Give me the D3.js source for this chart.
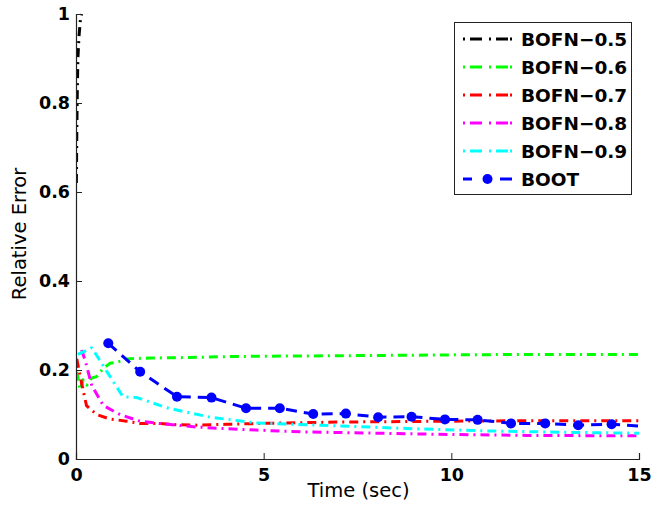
<!DOCTYPE html>
<html>
<head>
<meta charset="utf-8">
<script src="https://cdn.jsdelivr.net/npm/d3@7"></script>
<style>
  html, body { margin: 0; padding: 0; background: #fff; }
  svg { display: block; }
</style>
</head>
<body>
<svg id="chart" width="655" height="514"></svg>
<script>
// Relative error over time for the BOFN variants and BOOT
const seriesNames = ["BOFN\u22120.5", "BOFN\u22120.6", "BOFN\u22120.7", "BOFN\u22120.8", "BOFN\u22120.9", "BOOT"];
const seriesColors = ["#000000", "#00ff00", "#ff0000", "#ff00ff", "#00ffff", "#0000ff"];

const bofn05Time  = [0.01, 0.02, 0.03, 0.05, 0.08, 0.12, 0.15];
const bofn05Error = [0.62, 0.72, 0.80, 0.90, 0.95, 0.99, 1.00];

const bofn06Time  = [0.02, 0.11, 0.19, 0.29, 0.42, 0.55, 0.73, 0.91, 1.12, 1.35, 2, 3, 4, 5, 7, 10, 12, 15];
const bofn06Error = [0.196, 0.155, 0.178, 0.166, 0.182, 0.185, 0.204, 0.215, 0.218, 0.225, 0.227, 0.228, 0.23, 0.231, 0.232, 0.234, 0.235, 0.235];

const bofn07Time  = [0.02, 0.15, 0.28, 0.55, 0.9, 1.35, 1.7, 2.2, 2.7, 3.3, 4, 5, 7, 10, 12, 15];
const bofn07Error = [0.225, 0.17, 0.12, 0.10, 0.09, 0.085, 0.08, 0.08, 0.077, 0.076, 0.078, 0.08, 0.083, 0.085, 0.086, 0.086];

const bofn08Time  = [0.15, 0.25, 0.42, 0.73, 1.17, 1.7, 2.2, 3.2, 4, 4.8, 6, 8, 10, 12, 15];
const bofn08Error = [0.245, 0.22, 0.165, 0.12, 0.10, 0.085, 0.08, 0.072, 0.068, 0.065, 0.061, 0.058, 0.055, 0.053, 0.052];

const bofn09Time  = [0.05, 0.42, 0.91, 1.25, 1.62, 2.42, 3.57, 4.8, 6.5, 9, 11, 13, 15];
const bofn09Error = [0.235, 0.25, 0.185, 0.14, 0.138, 0.115, 0.094, 0.081, 0.076, 0.068, 0.063, 0.06, 0.058];

const bootTime  = [0.86, 1.71, 2.69, 3.61, 4.53, 5.43, 6.32, 7.19, 8.05, 8.94, 9.83, 10.7, 11.59, 12.5, 13.38, 14.27, 15];
const bootError = [0.26, 0.196, 0.14, 0.138, 0.114, 0.114, 0.101, 0.102, 0.094, 0.095, 0.089, 0.088, 0.08, 0.08, 0.076, 0.078, 0.074];
// BOOT carries a marker at every sample except the closing one
const bootMarked = bootTime.map((t, i) => i < bootTime.length - 1);

const xTicks = [0, 5, 10, 15];
const yTicks = [0, 0.2, 0.4, 0.6, 0.8, 1];
const xLabel = "Time (sec)";
const yLabel = "Relative Error";

const allTimes  = [bofn05Time, bofn06Time, bofn07Time, bofn08Time, bofn09Time, bootTime];
const allErrors = [bofn05Error, bofn06Error, bofn07Error, bofn08Error, bofn09Error, bootError];

const svg = d3.select("#chart");
const plot = { left: 76, right: 639, top: 14, bottom: 459 };

const x = d3.scaleLinear().domain([0, 15]).range([plot.left, plot.right]);
const y = d3.scaleLinear().domain([0, 1]).range([plot.bottom, plot.top]);

const dashDot = "9,5,2,5";
const dashed = "11,7";

svg.append("defs").append("clipPath").attr("id", "plotClip")
  .append("rect")
  .attr("x", plot.left).attr("y", plot.top - 4)
  .attr("width", plot.right - plot.left + 2).attr("height", plot.bottom - plot.top + 4);

const lineGen = d3.line().x(d => x(d[0])).y(d => y(d[1]));

const lines = svg.append("g").attr("clip-path", "url(#plotClip)");
allTimes.forEach((ts, k) => {
  const pts = ts.map((t, i) => [t, allErrors[k][i]]);
  lines.append("path")
    .datum(pts)
    .attr("d", lineGen)
    .attr("fill", "none")
    .attr("stroke", seriesColors[k])
    .attr("stroke-width", 3)
    .attr("stroke-dasharray", k === 5 ? dashed : dashDot)
    .attr("stroke-linejoin", "round");
});

lines.selectAll("circle.boot")
  .data(bootTime.map((t, i) => [t, bootError[i], bootMarked[i]]).filter(d => d[2]))
  .join("circle")
  .attr("class", "boot")
  .attr("cx", d => x(d[0]))
  .attr("cy", d => y(d[1]))
  .attr("r", 5)
  .attr("fill", seriesColors[5]);

// Axes: left and bottom spines with inward ticks
const xAxis = d3.axisBottom(x).tickValues(xTicks).tickSize(-6).tickPadding(10).tickFormat(d3.format("d"));
const yAxis = d3.axisLeft(y).tickValues(yTicks).tickSize(-6).tickPadding(6)
  .tickFormat(d => d === 0 || d === 1 ? String(d) : d3.format(".1f")(d));

const gx = svg.append("g").attr("transform", `translate(0,${plot.bottom})`).call(xAxis);
const gy = svg.append("g").attr("transform", `translate(${plot.left},0)`).call(yAxis);

[gx, gy].forEach(g => {
  g.select(".domain").attr("stroke", "#222").attr("stroke-width", 1.2);
  g.selectAll(".tick line").attr("stroke", "#222").attr("stroke-width", 1);
  g.selectAll(".tick text")
    .attr("fill", "#000")
    .style("font-family", "'DejaVu Sans', sans-serif")
    .style("font-weight", "bold")
    .style("font-size", "17.5px");
});
gx.selectAll(".tick text").attr("dy", "0.71em");

svg.append("text")
  .attr("x", (plot.left + plot.right) / 2 + 1)
  .attr("y", 497)
  .attr("text-anchor", "middle")
  .style("font-family", "'DejaVu Sans', sans-serif")
  .style("font-size", "19.5px")
  .text(xLabel);

svg.append("text")
  .attr("transform", "translate(26,234) rotate(-90)")
  .attr("text-anchor", "middle")
  .style("font-family", "'DejaVu Sans', sans-serif")
  .style("font-size", "19.5px")
  .text(yLabel);

// Legend
const legend = svg.append("g");
legend.append("rect")
  .attr("x", 454.5).attr("y", 22.5)
  .attr("width", 177).attr("height", 172)
  .attr("fill", "#fff").attr("stroke", "#222").attr("stroke-width", 1);

const legendY = d3.scaleLinear().domain([0, 5]).range([39, 179]);
seriesNames.forEach((name, k) => {
  const ly = legendY(k);
  legend.append("line")
    .attr("x1", 463).attr("x2", 512)
    .attr("y1", ly).attr("y2", ly)
    .attr("stroke", seriesColors[k])
    .attr("stroke-width", 3)
    .attr("stroke-dasharray", k === 5 ? "9,28,12" : "2,5,12,7,2,5,12");
  if (k === 5) {
    legend.append("circle").attr("cx", 487.5).attr("cy", ly).attr("r", 5).attr("fill", seriesColors[k]);
  }
  legend.append("text")
    .attr("x", 521).attr("y", ly)
    .attr("dy", "0.36em")
    .style("font-family", "'DejaVu Sans', sans-serif")
    .style("font-weight", "bold")
    .style("font-size", "18.5px")
    .text(name);
});
</script>
</body>
</html>
